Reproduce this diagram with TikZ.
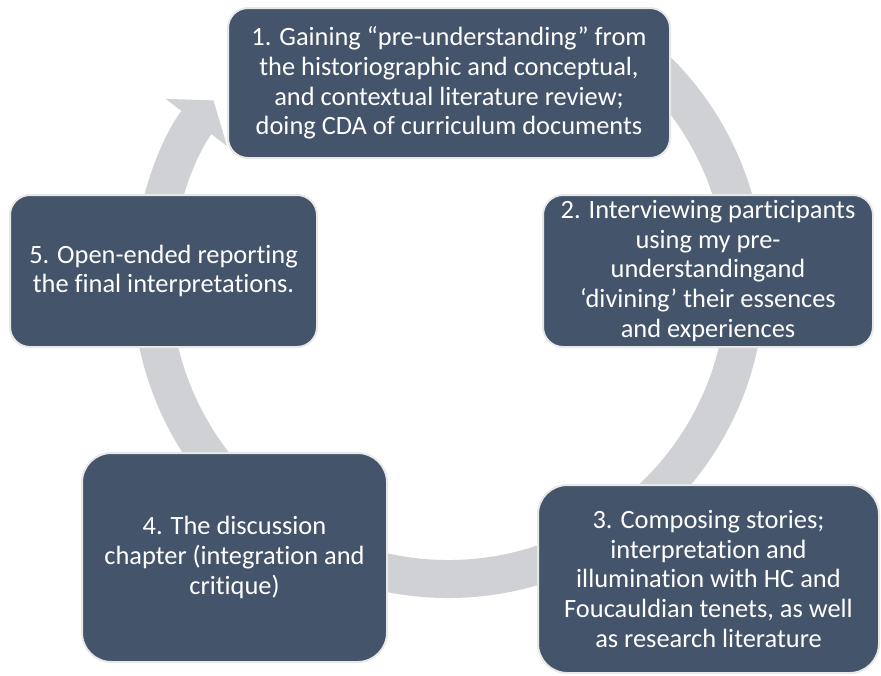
\documentclass[tikz,border=0pt]{standalone}
\usepackage{fontspec}
\setmainfont{Carlito}[Ligatures=NoCommon]
\usetikzlibrary{arrows.meta}
\definecolor{slate}{HTML}{44546A}
\definecolor{ringgray}{RGB}{208,209,213}
\definecolor{rimgray}{RGB}{232,232,232}
\tikzset{
  stage/.style={draw=rimgray, line width=1.5pt, fill=slate, text=white,
    rounded corners=15pt, align=center, inner sep=0pt,
    font=\fontsize{19.8}{22.2}\selectfont},
  cycle/.style={ringgray, line width=28.5pt,
    -{Triangle[width=57pt,length=21pt]}}
}
\begin{document}
\begin{tikzpicture}[x=0.75pt,y=-0.75pt]
  \useasboundingbox (0,0) rectangle (881,675);
  % the ring behind the five stages
  \coordinate (ctr) at (448.5,282);
  \draw[cycle] (ctr) ++(-55:297) arc[start angle=-55, end angle=217.7, radius=297];
  % stages, clockwise from the top
  \node[stage, minimum width=331.5pt, minimum height=112.5pt] (st1) at (449,83)
    {1. Gaining “pre-understanding” from\\ the historiographic and conceptual,\\ and contextual literature review;\\ doing CDA of curriculum documents};
  \node[stage, minimum width=247.5pt, minimum height=114pt] (st2) at (708,271)
    {2. Interviewing participants\\ using my pre-\\ understandingand\\ ‘divining’ their essences\\ and experiences};
  \node[stage, minimum width=255.75pt, minimum height=141pt, rounded corners=22pt] (st3) at (708.5,579)
    {3. Composing stories;\\ interpretation and\\ illumination with HC and\\ Foucauldian tenets, as well\\ as research literature};
  \node[stage, minimum width=228.75pt, minimum height=156.75pt, rounded corners=22pt] (st4) at (234.5,557.5)
    {4. The discussion\\ chapter (integration and\\ critique)};
  \node[stage, minimum width=230.25pt, minimum height=114pt] (st5) at (163.5,271)
    {5. Open-ended reporting\\ the final interpretations.};
\end{tikzpicture}
\end{document}
